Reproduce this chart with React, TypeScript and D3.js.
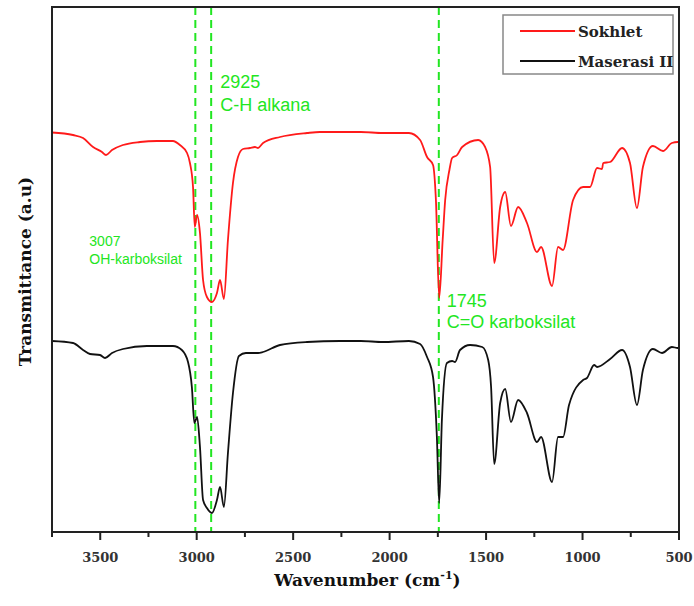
import React from "react";
import * as d3 from "d3";

const width = 694;
const height = 606;
const margin = { top: 7, right: 15, bottom: 74, left: 52 };

// wavenumber (cm-1) and transmittance (a.u.)
const sokhletWn = [3750, 3641, 3589, 3537, 3491, 3470, 3439, 3382, 3294, 3206, 3123, 3087, 3050, 3035, 3019, 3010, 2998, 2983, 2967, 2947, 2921, 2895, 2879, 2859, 2838, 2812, 2786, 2760, 2724, 2698, 2682, 2656, 2568, 2428, 2361, 2257, 2150, 2034, 1900, 1842, 1806, 1775, 1760, 1743, 1725, 1712, 1690, 1676, 1650, 1624, 1541, 1505, 1479, 1458, 1427, 1401, 1371, 1334, 1288, 1236, 1215, 1158, 1127, 1101, 1049, 997, 961, 925, 899, 893, 857, 795, 754, 718, 687, 635, 583, 537, 506, 500];
const sokhletT = [79.9, 79.4, 78.8, 77, 76, 75.4, 76.4, 77.4, 78, 78.2, 78.2, 77.4, 75.8, 73.8, 69, 61, 63.4, 59.8, 50.4, 47, 46, 47.8, 50.4, 46.6, 58.4, 69.8, 75, 76.6, 76.8, 77, 76.8, 77.8, 79, 79.8, 80, 80, 80, 79.8, 79.8, 78.4, 75, 73.4, 66.4, 46.8, 58.4, 66.4, 72.4, 74.8, 75.4, 77, 78.4, 77, 73, 53.8, 65, 68, 61.2, 65, 61.8, 56, 57, 49.2, 57, 56.4, 66.4, 69, 69, 72.8, 72.6, 73.8, 74, 76.8, 73.8, 64.8, 73, 77.2, 76.2, 77.8, 78, 78];

const maserasiWn = [3750, 3641, 3589, 3553, 3501, 3475, 3439, 3382, 3258, 3123, 3077, 3045, 3025, 3012, 2998, 2983, 2967, 2947, 2921, 2895, 2879, 2859, 2838, 2812, 2781, 2745, 2714, 2682, 2656, 2568, 2428, 2257, 2150, 2034, 1900, 1842, 1806, 1775, 1755, 1743, 1729, 1703, 1676, 1661, 1635, 1583, 1520, 1489, 1474, 1458, 1427, 1401, 1371, 1334, 1288, 1236, 1215, 1158, 1127, 1101, 1070, 997, 977, 940, 925, 857, 795, 754, 718, 687, 635, 588, 537, 506, 500];
const maserasiT = [38.2, 37.8, 36.4, 35.6, 35.4, 34.8, 35.8, 36.6, 37.2, 37.2, 36.4, 34, 29, 21.8, 23, 17, 6.4, 4.8, 3.8, 6.4, 9, 5, 15.8, 27.8, 35.2, 35.8, 35.8, 35.8, 36, 37.4, 38, 38.2, 38.2, 38, 38.2, 37.6, 35, 31, 19, 5.8, 22.4, 33.8, 34.2, 34, 36.4, 37.4, 37, 34.4, 29, 13.6, 25.8, 28.6, 22, 26.4, 23.8, 18, 19, 10, 19, 19, 25.4, 30.4, 30.8, 33.4, 33, 34.6, 36.4, 33, 25.4, 32.4, 36.6, 35.8, 37, 36.8, 36.8];

const seriesNames = ["Sokhlet", "Maserasi II"];
const seriesColors = ["#ff1a1a", "#111111"];

const xTicks = [3500, 3000, 2500, 2000, 1500, 1000, 500];
const xMinorTicks = [3750, 3250, 2750, 2250, 1750, 1250, 750];

const bandWn = [3007, 2925, 1745];
const bandLabels = [
  { wn: 3007, lines: ["3007", "OH-karboksilat"], size: 14, dx: -106, y: 246, gap: 18 },
  { wn: 2925, lines: ["2925", "C-H alkana"], size: 18, dx: 9, y: 88, gap: 23 },
  { wn: 1745, lines: ["1745", "C=O karboksilat"], size: 18, dx: 8, y: 307, gap: 21 },
];

const green = "#22e622";
const serif = "'DejaVu Serif', serif";
const sans = "'Liberation Sans', Arial, sans-serif";

export default function App() {
  const innerW = width - margin.left - margin.right;
  const innerH = height - margin.top - margin.bottom;
  const x = d3.scaleLinear().domain([3750, 500]).range([margin.left, margin.left + innerW]);
  const y = d3.scaleLinear().domain([0, 105]).range([margin.top + innerH, margin.top]);

  const line = d3
    .line<[number, number]>()
    .x((d) => x(d[0]))
    .y((d) => y(d[1]))
    .curve(d3.curveMonotoneX);

  const series = [
    sokhletWn.map((w, i) => [w, sokhletT[i]] as [number, number]),
    maserasiWn.map((w, i) => [w, maserasiT[i]] as [number, number]),
  ];

  const bottom = margin.top + innerH;
  const right = margin.left + innerW;

  return (
    <svg
      width={width}
      height={height}
      style={{ position: "absolute", left: 0, top: 0, background: "#fff" }}
    >
      {/* dashed band markers */}
      {bandWn.map((w) => (
        <line
          key={w}
          x1={x(w)}
          x2={x(w)}
          y1={margin.top}
          y2={bottom}
          stroke={green}
          strokeWidth={2}
          strokeDasharray="8 5"
        />
      ))}

      {series.map((s, i) => (
        <path key={i} d={line(s) || ""} fill="none" stroke={seriesColors[i]} strokeWidth={1.8} />
      ))}

      {/* frame */}
      <rect
        x={margin.left}
        y={margin.top}
        width={innerW}
        height={innerH}
        fill="none"
        stroke="#222"
        strokeWidth={2}
      />

      {/* x ticks */}
      {xTicks.map((t) => (
        <g key={t}>
          <line x1={x(t)} x2={x(t)} y1={bottom} y2={bottom + 8} stroke="#222" strokeWidth={2} />
          <text
            x={x(t)}
            y={bottom + 30}
            textAnchor="middle"
            fontFamily={serif}
            fontWeight="bold"
            fontSize={13}
            fill="#333"
          >
            {t}
          </text>
        </g>
      ))}
      {xMinorTicks.map((t) => (
        <line key={t} x1={x(t)} x2={x(t)} y1={bottom} y2={bottom + 5} stroke="#222" strokeWidth={2} />
      ))}

      {/* axis titles */}
      <text
        x={(margin.left + right) / 2 + 2}
        y={586}
        textAnchor="middle"
        fontFamily={serif}
        fontWeight="bold"
        fontSize={17}
        fill="#111"
      >
        Wavenumber (cm<tspan dy={-7} fontSize={11}>-1</tspan>
        <tspan dy={7}>)</tspan>
      </text>
      <text
        transform={`translate(31, ${(margin.top + bottom) / 2 + 2}) rotate(-90)`}
        textAnchor="middle"
        fontFamily={serif}
        fontWeight="bold"
        fontSize={17}
        fill="#111"
      >
        Transmittance (a.u)
      </text>

      {/* band annotations */}
      {bandLabels.map((b) => (
        <text key={b.wn} fontFamily={sans} fontSize={b.size} fill={green}>
          {b.lines.map((l, j) => (
            <tspan key={j} x={x(b.wn) + b.dx} y={b.y + j * b.gap}>
              {l}
            </tspan>
          ))}
        </text>
      ))}

      {/* legend */}
      <rect x={503} y={15} width={170} height={59} fill="#fff" stroke="#888" strokeWidth={1.5} />
      {seriesNames.map((n, i) => (
        <g key={n}>
          <line x1={520} x2={575} y1={31 + i * 30} y2={31 + i * 30} stroke={seriesColors[i]} strokeWidth={1.8} />
          <text x={578} y={37 + i * 30} fontFamily={serif} fontWeight="bold" fontSize={15} fill="#222">
            {n}
          </text>
        </g>
      ))}
    </svg>
  );
}
